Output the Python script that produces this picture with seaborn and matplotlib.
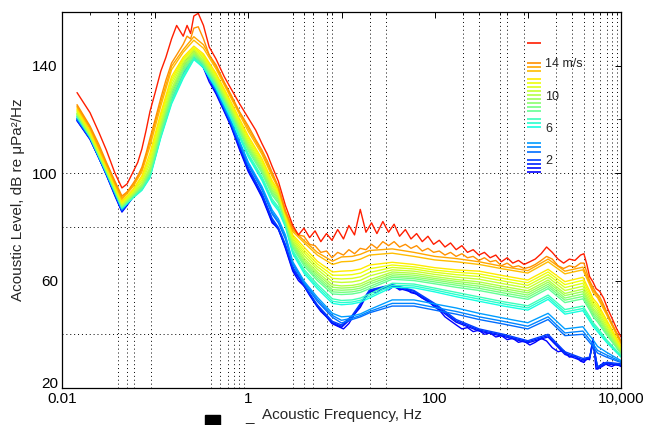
import matplotlib
matplotlib.use("Agg")
import matplotlib.pyplot as plt
from matplotlib.colors import Normalize
from matplotlib.patches import Rectangle
from matplotlib.ticker import FixedLocator, NullFormatter
import pandas as pd
import seaborn as sns

# Frequency bins (Hz) for the band-averaged spectra
FREQ_HZ = [0.0145, 0.02, 0.03, 0.044, 0.058, 0.072, 0.088, 0.115, 0.15, 0.2,
           0.26, 0.33, 0.45, 0.65, 1.0, 1.4, 1.8, 2.1, 2.5, 3.0,
           4.0, 5.5, 8.0, 10, 13, 16, 20, 35, 60, 100,
           170, 300, 550, 1000, 1650, 2500, 3900, 4600, 5000, 5600,
           7000, 10000]

# Finer frequency bins (Hz) for the spectra kept at full resolution
FREQ_FINE = [0.0145, 0.02, 0.025, 0.03, 0.037, 0.044, 0.05, 0.058, 0.065, 0.072,
             0.08, 0.088, 0.1, 0.115, 0.13, 0.15, 0.17, 0.2, 0.22, 0.24,
             0.26, 0.29, 0.33, 0.38, 0.45, 0.55, 0.65, 0.8, 1.0, 1.2,
             1.4, 1.6, 1.8, 2.1, 2.5,
             3.0, 3.45, 3.95, 4.55, 5.2, 6.0, 6.9, 7.9, 9.1, 10.5,
             12, 13.8, 15.9, 18.3, 21, 24, 27.8, 32, 36.7, 42,
             48.5, 55.7, 64, 73.6, 84.7, 97.4, 112, 129, 148, 170,
             196, 225, 259, 298, 342, 394, 453, 520, 600, 690,
             793, 912, 1050, 1200, 1390, 1590, 1830, 2110, 2420, 2790,
             3200, 3680, 4000, 4300, 4600, 5000, 5400, 5900, 6500, 7200,
             8000, 9000, 10000]

# Spectrum level (dB re uPa^2/Hz) per wind speed (m/s)
LEVEL_0P5 = [119.5, 112.5, 105.5, 99.2, 91.5, 85.5, 88, 91.2, 93, 95,
             97.5, 100.2, 107.5, 115, 122, 128.5, 134, 139.5, 142, 143.5,
             144.5, 142.5, 139.2, 134, 129.5, 123, 117.5, 109, 100.5, 95.5,
             91, 86, 81.5, 79.5, 72,
             63.5, 60, 58, 54.5, 51.5, 48.5, 46.5, 44, 43, 42,
             44, 47.5, 50, 54, 56, 55.5, 57.5, 56.5, 58, 56.5,
             57, 55.5, 55, 53.5, 52.5, 50.5, 49, 46.5, 45, 43.5,
             42, 42.5, 41, 41.5, 40, 40.5, 39, 39.5, 38, 38.5,
             37, 37.5, 36, 37, 38.5, 37.5, 35, 33.5, 34, 31.5,
             32, 30, 29.5, 31, 30.5, 38.5, 27, 28, 29.5, 28.5,
             28, 29, 28]
LEVEL_1 = [119.8, 112.8, 99.5, 85.8, 91.5, 95.3, 100.6, 115.5, 129, 140, 145, 139.6, 130, 117.8, 101, 91.5, 82, 79, 72.5, 64, 57.8, 50.3, 44.1, 42.6, 46.2, 51, 56, 57.8, 55.5, 50.5, 44.5, 41.2, 39.2, 36.8, 39, 32.5, 30, 31, 38, 27, 29, 28.3]
LEVEL_1P5 = [119.6, 113, 99.4, 86, 91.3, 95.2, 100.4, 115.3, 129.2, 140.3, 145.3, 140, 130.4, 118.2, 101.5, 92, 82.6, 79.3, 73, 64.5, 58, 50.6, 44.4, 43, 46.5, 51.2, 56.3, 58.2, 56, 51, 45, 41.6, 39.6, 37.2, 39.5, 33, 30.5, 31.3, 37, 27.5, 29.3, 28.6]
LEVEL_2 = [120, 112.8, 99.6, 86, 91.5, 95.4, 100.8, 115.8, 129.5, 140.5, 145.5, 140.3, 130.7, 118.5, 102, 92.5, 83.2, 79.8, 73.5, 65, 58.2, 51, 44.8, 43.5, 47, 51.5, 56.5, 58.5, 56.3, 51.5, 45.5, 42, 40, 37.6, 40, 33.5, 31, 31.5, 36, 28, 29.6, 29]
LEVEL_3 = [120.2, 113.2, 99.8, 86.3, 91.2, 94.8, 100, 114.8, 128, 138.5, 144, 139.5, 130.8, 119, 103, 93.8, 84.8, 81.5, 75.5, 66, 58.8, 52.3, 46.3, 44.2, 45.5, 46.5, 48, 50.5, 50.5, 49, 47.5, 45.5, 43.8, 42, 45.5, 39.5, 40, 37, 35.5, 33, 31.5, 29.5]
LEVEL_3P5 = [120.5, 113, 99.7, 86.5, 91, 94.5, 99.5, 114.3, 127.5, 137.8, 143.5, 139.3, 131, 119.3, 103.5, 94.4, 85.5, 82.2, 76.2, 66.5, 59.2, 53, 47, 45.2, 46, 47, 48.5, 51.5, 51.5, 50, 48.5, 46.5, 44.8, 43, 46.5, 40.5, 41.2, 38, 36.5, 34, 32.3, 29.8]
LEVEL_4 = [120.4, 113.4, 100, 86.5, 91, 94.2, 99, 114, 127, 137, 143, 139.2, 131.2, 119.6, 104, 95, 86.3, 83, 77, 67, 59.6, 53.8, 47.8, 46.5, 46.8, 47.6, 49.2, 52.8, 52.8, 51.3, 49.8, 47.8, 46, 44.3, 47.8, 42, 42.8, 39.5, 38, 35.5, 33.3, 30.2]
LEVEL_6 = [121, 113.5, 100.2, 87, 90.8, 93.6, 98.3, 113.2, 125.8, 135.3, 142.3, 139.3, 131.8, 120.5, 106, 97.3, 89, 86, 80, 70, 62.5, 57, 51.5, 51, 51.3, 52, 53.5, 57.5, 57.3, 55.8, 54, 52.3, 50.5, 49, 53, 47.5, 48.8, 45, 43, 41, 37, 31.5]
LEVEL_6P5 = [121.2, 113.6, 100.4, 87, 91, 93.8, 98.6, 113.6, 126.3, 135.8, 142.6, 139.6, 132.2, 121, 106.6, 98, 89.7, 86.7, 80.5, 70.6, 63.2, 57.8, 52.3, 51.8, 52, 52.7, 54.2, 58.2, 58, 56.5, 54.8, 53.1, 51.3, 49.8, 53.8, 48.3, 49.6, 45.8, 43.7, 41.7, 37.5, 31.8]
LEVEL_7 = [121, 113.5, 100.3, 87.2, 91.2, 94, 99, 114, 126.8, 136.5, 143, 140, 132.6, 121.5, 107.2, 98.7, 90.4, 87.4, 81, 71.2, 64, 58.6, 53.2, 52.6, 52.8, 53.5, 55, 59, 58.7, 57.2, 55.6, 53.9, 52.1, 50.6, 54.6, 49.2, 50.5, 46.6, 44.4, 42.4, 38, 32.1]
LEVEL_8 = [121.5, 113.8, 100.6, 87.5, 91.5, 94.5, 99.8, 115, 128, 137.8, 143.6, 140.5, 133.2, 122.3, 108.3, 100, 91.8, 88.8, 81.8, 72.2, 65.3, 60, 55, 54.8, 55, 55.6, 57, 60.5, 60, 58.8, 57.5, 56.3, 54.6, 53, 57, 51.8, 53.2, 49, 46.6, 44.6, 39.8, 32.8]
LEVEL_8P5 = [121.8, 114, 100.8, 87.6, 91.8, 95, 100.5, 116, 129, 138.5, 144, 141, 133.6, 122.8, 109, 100.7, 92.5, 89.5, 82.2, 72.8, 66, 60.8, 55.8, 55.6, 55.8, 56.4, 57.8, 61.2, 60.7, 59.5, 58.3, 57.1, 55.4, 53.8, 57.8, 52.7, 54.1, 49.8, 47.4, 45.4, 40.4, 33.1]
LEVEL_9 = [122, 114.2, 101, 88, 92, 95.3, 101, 116.8, 130, 139.3, 144.4, 141.4, 134, 123.3, 109.6, 101.3, 93.2, 90.2, 82.5, 73.4, 66.7, 61.6, 56.6, 56.4, 56.6, 57.2, 58.7, 61.8, 61.3, 60.2, 59, 57.9, 56.2, 54.6, 58.6, 53.5, 55, 50.6, 48.2, 46.2, 41, 33.4]
LEVEL_9P5 = [122.2, 114, 101, 88, 92.2, 95.6, 101.6, 117.5, 130.8, 140, 144.8, 141.8, 134.4, 123.8, 110.2, 102, 93.8, 90.8, 82.8, 74, 67.4, 62.4, 57.5, 57.2, 57.4, 58, 59.5, 62.5, 62, 60.8, 59.7, 58.7, 57, 55.4, 59.4, 54.4, 55.9, 51.4, 49, 47, 41.6, 33.7]
LEVEL_10 = [122.3, 114.4, 101.2, 88.2, 92.4, 96, 102.2, 118.2, 131.5, 140.5, 145.2, 142.2, 134.8, 124.3, 110.8, 102.6, 94.5, 91.4, 83.2, 74.5, 68.2, 63.2, 58.4, 58, 58.2, 58.8, 60.3, 63.2, 62.7, 61.5, 60.4, 59.5, 57.8, 56.2, 60.2, 55.2, 56.8, 52.2, 49.8, 47.8, 42.2, 34]
LEVEL_10P5 = [122.8, 114.8, 101.4, 88.5, 92.8, 96.8, 103.5, 119.3, 132.8, 141.3, 145.7, 142.8, 135.4, 124.8, 111.5, 103.3, 95.2, 92, 83.6, 75.2, 69.2, 64.2, 59.6, 59.3, 59.5, 60.1, 61.7, 64, 63.5, 62.3, 61.3, 60.5, 58.8, 57.2, 61.2, 56.3, 57.9, 53.2, 50.7, 48.7, 43, 34.4]
LEVEL_11 = [123.2, 115, 101.8, 88.8, 93.2, 97.5, 104.8, 120.5, 134, 142, 146.2, 143.3, 136, 125.4, 112.2, 104, 95.8, 92.5, 84, 75.8, 70.2, 65.2, 60.8, 60.6, 60.8, 61.4, 63, 64.9, 64.3, 63.1, 62.2, 61.5, 59.8, 58.2, 62.2, 57.4, 59, 54.2, 51.6, 49.6, 43.8, 34.8]
LEVEL_11P5 = [123.6, 115.3, 102, 89, 93.6, 98.3, 106, 121.5, 135, 142.6, 146.7, 143.8, 136.6, 126, 113, 104.7, 96.5, 93, 84.3, 76.4, 71.2, 66.2, 62, 62, 62.2, 62.8, 64.4, 65.8, 65.1, 63.9, 63.1, 62.5, 60.8, 59.2, 63.2, 58.5, 60.1, 55.2, 52.5, 50.5, 44.6, 35.2]
LEVEL_12 = [124, 115.6, 102.3, 89.5, 94, 99, 107.5, 122.5, 136, 143.2, 147.3, 144.4, 137.2, 126.6, 113.8, 105.4, 97.2, 93.5, 84.6, 77, 72.3, 67.2, 63.2, 63.5, 63.7, 64.3, 65.8, 66.8, 66, 64.8, 64, 63.5, 61.8, 60.2, 64.2, 59.6, 61.2, 56.2, 53.4, 51.4, 45.4, 35.6]
LEVEL_13 = [124.6, 116.5, 103, 90.2, 95, 100.5, 110, 125, 138.5, 145, 149.5, 146.5, 138.8, 128, 115.5, 107, 98.8, 94.3, 85.3, 78.2, 74, 69.5, 66, 67, 67.2, 68, 69.5, 70.2, 69, 67.7, 67, 66, 64.3, 62.8, 67, 62.5, 64, 58.5, 55.6, 53.6, 47.3, 36.5]
LEVEL_13P5 = [125, 117, 103.5, 90.8, 95.5, 101.3, 111.5, 126.5, 139.8, 146, 150.8, 147.8, 139.5, 128.6, 116.5, 107.8, 99.5, 94.6, 85.7, 78.8, 74.8, 70.5, 67.2, 68.8, 69, 69.8, 71.2, 71.8, 70.5, 69, 68.2, 67, 65.2, 63.7, 68, 63.5, 65, 59.3, 56.4, 54.4, 48, 37]
LEVEL_14 = [125.5, 117.5, 110.5, 104, 97, 91.5, 93, 96.2, 99, 102.2,
            107.5, 113, 120, 128, 134.5, 141, 144, 148, 151, 150,
            154, 154.5, 150, 144, 140.3, 134, 129.3, 123, 117.5, 112.5,
            108.6, 104.5, 100.3, 95, 86,
            79.5, 77, 76.5, 73.5, 73, 70.5, 71, 68.5, 70.5, 69.5,
            71.5, 70, 72, 71.5, 73.5, 72, 74.5, 73, 74.5, 72.5,
            73.5, 72, 73, 71, 72, 70.5, 71, 69.5, 70.5, 69,
            70, 68.5, 69, 67.5, 68.5, 67, 67.5, 65.5, 66.5, 65,
            65.5, 64.5, 65, 66, 67.5, 69, 68, 65.5, 64.5, 65.5,
            65, 66.5, 66.5, 63, 60, 57.5, 55.5, 54, 51, 47.5,
            44, 40.5, 37.5]
LEVEL_16P5 = [130, 122.5, 115, 108.5, 100, 94.5, 96, 100.5, 104, 109,
              116, 123, 130, 138, 143, 150, 155, 151, 155, 152,
              158.5, 159.5, 155, 147, 142.5, 136, 131.5, 126, 120.5, 116,
              111, 107, 102.5, 97, 88,
              80.5, 77, 79.5, 76, 78.5, 74.5, 77.5, 75, 79, 75.5,
              80.5, 77, 86.5, 78, 81.5, 77.5, 82, 78, 81, 76.5,
              79, 75.5, 77.5, 74.5, 76.5, 73.5, 75, 72.5, 74, 71.5,
              73, 70.5, 71.5, 69.5, 70.5, 68.5, 69.5, 67, 68.5, 66.5,
              67.5, 66, 67, 68, 70, 72.5, 70.5, 68, 66.5, 68,
              67.5, 69.5, 70, 66, 61.5, 59.5, 57, 56, 53.5, 49.5,
              46, 42, 39]

WIND_SPEEDS = [0.5, 1, 1.5, 2, 3, 3.5, 4, 6, 6.5, 7, 8, 8.5, 9, 9.5,
               10, 10.5, 11, 11.5, 12, 13, 13.5, 14, 16.5]
SPECTRA = [(FREQ_FINE, LEVEL_0P5), (FREQ_HZ, LEVEL_1), (FREQ_HZ, LEVEL_1P5),
           (FREQ_HZ, LEVEL_2), (FREQ_HZ, LEVEL_3), (FREQ_HZ, LEVEL_3P5),
           (FREQ_HZ, LEVEL_4), (FREQ_HZ, LEVEL_6), (FREQ_HZ, LEVEL_6P5),
           (FREQ_HZ, LEVEL_7), (FREQ_HZ, LEVEL_8), (FREQ_HZ, LEVEL_8P5),
           (FREQ_HZ, LEVEL_9), (FREQ_HZ, LEVEL_9P5), (FREQ_HZ, LEVEL_10),
           (FREQ_HZ, LEVEL_10P5), (FREQ_HZ, LEVEL_11), (FREQ_HZ, LEVEL_11P5),
           (FREQ_HZ, LEVEL_12), (FREQ_HZ, LEVEL_13), (FREQ_HZ, LEVEL_13P5),
           (FREQ_FINE, LEVEL_14), (FREQ_FINE, LEVEL_16P5)]

# Axis furniture
X_TICKS = [0.01, 0.1, 1, 10, 100, 1000, 10000]
X_TICK_LABELS = ["0.01", "", "1", "", "100", "", "10,000"]
X_MINOR = [0.02, 0.04, 0.05, 0.06, 0.09, 0.4, 0.5, 0.6, 0.7, 0.8, 0.9,
           3, 4, 5, 7, 8, 20, 30, 200, 300, 500, 600, 900,
           2000, 3000, 4000, 5000, 6000, 7000, 8000, 9000]
GRID_FREQ = [0.04, 0.05, 0.06, 0.09, 0.4, 0.5, 0.6, 0.7, 0.8, 0.9,
             3, 4, 5, 7, 8, 20, 30, 200, 300, 500, 600, 900,
             2000, 3000, 4000, 5000, 6000, 7000, 8000, 9000]
GRID_LEVEL = [40, 80, 100]
Y_TICKS = [20, 60, 100, 140]
Y_MINOR = [40, 80, 120]
KEY_TICKS = [2, 6, 10, 14]
KEY_LABELS = ["2", "6", "10", "14 m/s"]

sns.set_style("white")
plt.rcParams["font.family"] = ["Liberation Sans", "DejaVu Sans"]

records = []
for ws, (freqs, levels) in zip(WIND_SPEEDS, SPECTRA):
    for f, lv in zip(freqs, levels):
        records.append({"freq": f, "level": lv, "speed": ws})
df = pd.DataFrame(records)

cmap = matplotlib.colormaps["jet"]
norm = Normalize(vmin=-1.9, vmax=19.1)
palette = {ws: cmap(norm(ws)) for ws in WIND_SPEEDS}

W, H = 648, 425
fig = plt.figure(figsize=(W / 100, H / 100), dpi=100)
ax = fig.add_axes([62 / W, 1 - 388 / H, 559 / W, 376 / H])

for f in GRID_FREQ:
    ax.axvline(f, color="black", lw=0.7, ls=(0, (1, 3)), zorder=0.5)
for lv in GRID_LEVEL:
    ax.axhline(lv, color="black", lw=0.7, ls=(0, (1, 3)), zorder=0.5)

sns.lineplot(data=df, x="freq", y="level", hue="speed", hue_order=WIND_SPEEDS,
             palette=palette, estimator=None, errorbar=None, sort=False,
             legend=False, lw=1.0, ax=ax)

ax.set_xscale("log")
ax.set_xlim(0.01, 10000)
ax.set_ylim(20, 160)
ax.xaxis.set_major_locator(FixedLocator(X_TICKS))
ax.set_xticklabels(X_TICK_LABELS)
ax.xaxis.set_minor_locator(FixedLocator(X_MINOR))
ax.xaxis.set_minor_formatter(NullFormatter())
ax.set_yticks(Y_TICKS)
ax.yaxis.set_minor_locator(FixedLocator(Y_MINOR))
ax.tick_params(which="both", direction="in", top=True, right=True,
               colors="black", labelsize=11, pad=3)
ax.tick_params(which="major", length=4, width=0.7)
ax.tick_params(which="minor", length=2.5, width=0.6)
ax.yaxis.get_major_ticks()[0].label1.set_verticalalignment("baseline")
for sp in ax.spines.values():
    sp.set_color("black")
    sp.set_linewidth(0.9)

ax.set_xlabel("Acoustic Frequency, Hz", fontsize=11, labelpad=1)
ax.set_ylabel("Acoustic Level, dB re μPa²/Hz", fontsize=11, labelpad=5)

# wind-speed key: one short stroke per speed, placed on a m/s scale
kax = fig.add_axes([527 / W, 1 - 175.7 / H, 14 / W, 141.1 / H])
kax.hlines(WIND_SPEEDS, 0, 1, colors=[palette[w] for w in WIND_SPEEDS], lw=1.2)
kax.set_xlim(0, 1)
kax.set_ylim(0, 17.5)
kax.set_xticks([])
kax.set_yticks(KEY_TICKS)
kax.set_yticklabels(KEY_LABELS)
kax.yaxis.tick_right()
kax.tick_params(axis="y", length=0, pad=3, labelsize=9)
kax.patch.set_alpha(0)
for sp in kax.spines.values():
    sp.set_visible(False)

# stray marks beside the axis title
fig.add_artist(Rectangle((205 / W, 0), 15 / W, 10 / H,
                         transform=fig.transFigure, color="black"))
fig.text(245 / W, 1 - 421 / H, "_", fontsize=11, va="baseline", ha="left")

fig.savefig("out.png", dpi=100)
